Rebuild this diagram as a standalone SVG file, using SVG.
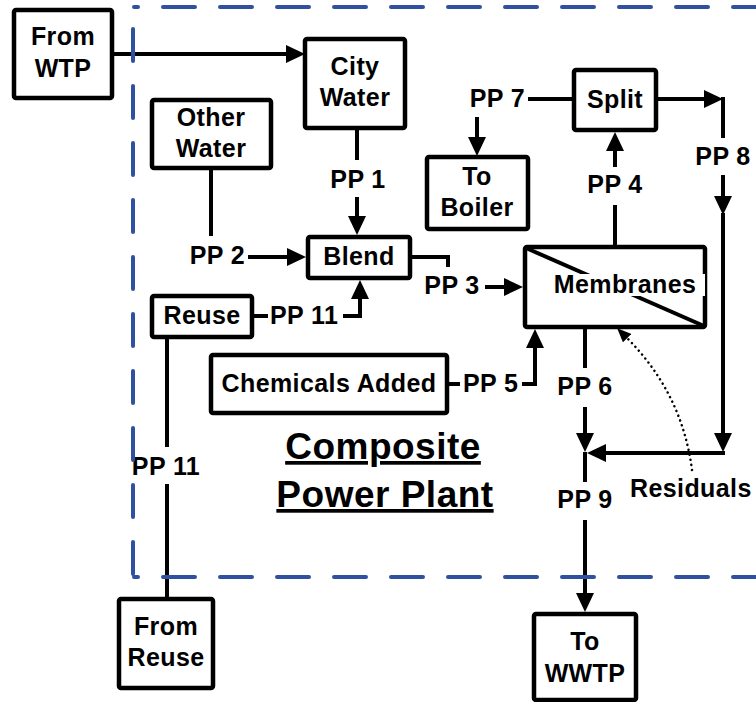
<svg xmlns="http://www.w3.org/2000/svg" width="756" height="702" viewBox="0 0 756 702">
<style>
.box{fill:#fff;stroke:#000;stroke-width:4.5}
.t{font-family:"Liberation Sans",Arial,sans-serif;font-weight:bold;font-size:25px;letter-spacing:0.4px;fill:#000;text-anchor:middle}
.s{text-anchor:start}
.e{text-anchor:end}
.title{font-size:37px;letter-spacing:0.5px;text-decoration:underline}
.c{fill:none;stroke:#000;stroke-width:4}
.dot{fill:none;stroke:#000;stroke-width:2.5;stroke-dasharray:0.1 5;stroke-linecap:round}
.bd{fill:none;stroke:#3050a0;stroke-width:4;stroke-dasharray:32 25;stroke-linecap:round}
.bdot{fill:none;stroke:#3050a0;stroke-width:4;stroke-linecap:round}
</style>
<defs>
<marker id="a" markerUnits="userSpaceOnUse" markerWidth="19" markerHeight="18" viewBox="0 0 19 18" refX="4" refY="9" orient="auto"><path d="M0,0 L19,9 L0,18 z" fill="#000"/></marker>
<marker id="as" markerUnits="userSpaceOnUse" markerWidth="14" markerHeight="12" viewBox="0 0 14 12" refX="3" refY="6" orient="auto"><path d="M0,0 L14,6 L0,12 z" fill="#000"/></marker>
</defs>
<rect width="756" height="702" fill="#fff"/>
<g id="connectors">
<path class="c" d="M113,54 H290" marker-end="url(#a)"/>
<path class="c" d="M357,128 V160"/>
<path class="c" d="M357,197 V220" marker-end="url(#a)"/>
<path class="c" d="M211,169 V236"/>
<path class="c" d="M248,257 H291" marker-end="url(#a)"/>
<path class="c" d="M252,316 H268"/>
<path class="c" d="M343,316 H360 V295" marker-end="url(#a)"/>
<path class="c" d="M167,337 V447"/>
<path class="c" d="M167,484 V599"/>
<path class="c" d="M410,257 H448 V267"/>
<path class="c" d="M485,287 H508" marker-end="url(#a)"/>
<path class="c" d="M447,384 H460"/>
<path class="c" d="M522,384 H535 V344" marker-end="url(#a)"/>
<path class="c" d="M615,247 V205"/>
<path class="c" d="M615,167 V147" marker-end="url(#a)"/>
<path class="c" d="M574,99 H528"/>
<path class="c" d="M477,117 V141" marker-end="url(#a)"/>
<path class="c" d="M656,99 H708" marker-end="url(#a)"/>
<path class="c" d="M723,97 V138"/>
<path class="c" d="M723,175 V200" marker-end="url(#a)"/>
<path class="c" d="M723,213 V437" marker-end="url(#a)"/>
<path class="c" d="M725,453 H602" marker-end="url(#a)"/>
<path class="c" d="M585,327 V368"/>
<path class="c" d="M585,407 V437" marker-end="url(#a)"/>
<path class="c" d="M585,452 V482"/>
<path class="c" d="M585,520 V597" marker-end="url(#a)"/>
<path class="dot" d="M692,470 Q682,392 625,336" marker-end="url(#as)"/>
<text class="t" x="358" y="188">PP 1</text>
<text class="t e" x="245" y="264">PP 2</text>
<text class="t s" x="270" y="324">PP 11</text>
<text class="t" x="166" y="475">PP 11</text>
<text class="t" x="452" y="294">PP 3</text>
<text class="t s" x="463" y="392">PP 5</text>
<text class="t" x="615" y="193">PP 4</text>
<text class="t e" x="525" y="107">PP 7</text>
<text class="t" x="723" y="165">PP 8</text>
<text class="t" x="585" y="395">PP 6</text>
<text class="t" x="585" y="508">PP 9</text>
<text class="t s" x="630" y="497">Residuals</text>
</g>
<g id="from-wtp"><rect class="box" x="14" y="10" width="98" height="88" rx="2"/><text class="t" x="63" y="45">From</text><text class="t" x="63" y="77">WTP</text></g>
<g id="city-water"><rect class="box" x="305" y="39" width="100" height="89" rx="2"/><text class="t" x="355" y="75">City</text><text class="t" x="355" y="106">Water</text></g>
<g id="other-water"><rect class="box" x="152" y="100" width="119" height="68" rx="2"/><text class="t" x="211" y="126">Other</text><text class="t" x="211" y="157">Water</text></g>
<g id="blend"><rect class="box" x="308" y="237" width="102" height="41" rx="2"/><text class="t" x="359" y="265">Blend</text></g>
<g id="reuse"><rect class="box" x="152" y="296" width="100" height="41" rx="2"/><text class="t" x="202" y="324">Reuse</text></g>
<g id="chemicals"><rect class="box" x="211" y="355" width="236" height="58" rx="2"/><text class="t" x="329" y="392">Chemicals Added</text></g>
<g id="membranes"><rect class="box" x="525" y="247" width="180" height="80" rx="2"/><path class="c" d="M526,248 L704,326"/><rect x="548" y="274" width="157" height="22" fill="#fff"/><text class="t" x="625" y="293">Membranes</text></g>
<g id="split"><rect class="box" x="574" y="70" width="82" height="60" rx="2"/><text class="t" x="615" y="108">Split</text></g>
<g id="to-boiler"><rect class="box" x="427" y="157" width="101" height="72" rx="2"/><text class="t" x="477" y="185">To</text><text class="t" x="477" y="216">Boiler</text></g>
<g id="from-reuse"><rect class="box" x="119" y="599" width="94" height="89" rx="2"/><text class="t" x="166" y="635">From</text><text class="t" x="166" y="666">Reuse</text></g>
<g id="to-wwtp"><rect class="box" x="534" y="614" width="102" height="86" rx="2"/><text class="t" x="585" y="650">To</text><text class="t" x="585" y="682">WWTP</text></g>
<g id="boundary">
<path class="bd" d="M163,7 H760"/>
<path class="bd" d="M133,29 V577"/>
<path class="bd" d="M163,577 H760"/>
<path class="bdot" d="M134,7 h4 M134,577 h4"/>
<text class="t title" x="383" y="459">Composite</text>
<text class="t title" x="385" y="507">Power Plant</text>
</g>
</svg>
